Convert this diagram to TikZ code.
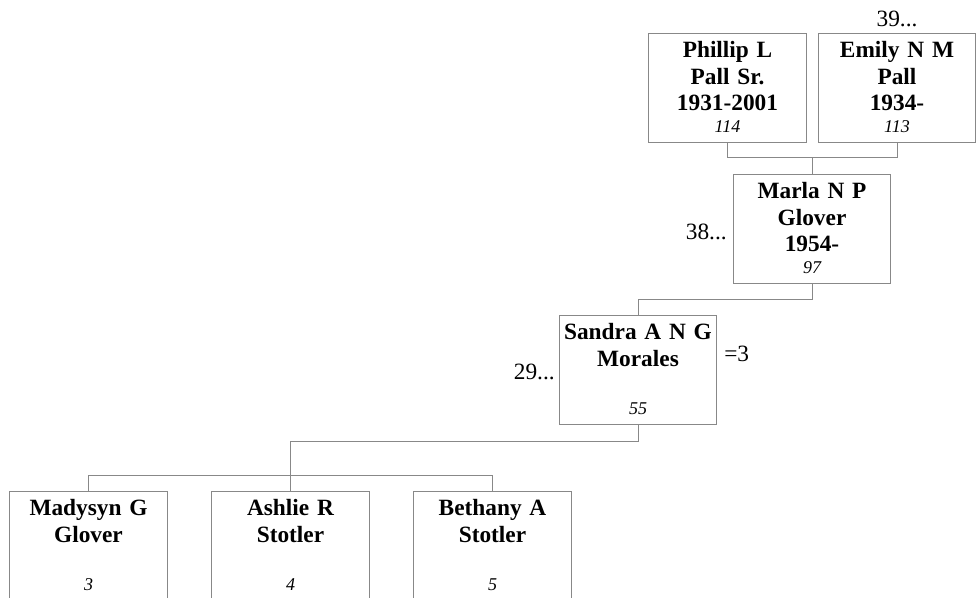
\documentclass[tikz,border=0pt]{standalone}
\usepackage{fontspec}
\setmainfont{Liberation Serif}
\usepackage{tikz}
\definecolor{linegray}{RGB}{136,136,136}
\tikzset{
  treenode/.style = {align=center, inner sep=0pt, text centered},
  fam_p/.style = {treenode, rectangle, draw=linegray, line width=0.75pt,
    anchor=north, text width=118.1pt, text height=18.3pt, text depth=63.8pt,
    font=\fontsize{17.5}{20}\selectfont\bfseries},% personne
  fam_x/.style = {inner sep=0pt,
    font=\fontsize{17.5}{20}\selectfont},% renvoi
  fam_l/.style = {draw=linegray, line width=0.75pt}% lien
}
\newcommand{\famnum}[1]{\\[-3.75pt]{\fontsize{13.5}{16}\selectfont\mdseries\itshape #1}}

\begin{document}
\begin{tikzpicture}[x=0.75pt,y=-0.75pt]
\useasboundingbox (0,0) rectangle (980,597);
\clip (0,0) rectangle (980,597);
% parents
\node [fam_p] (phillip) at (727.5,32.5) {Phillip L\\Pall Sr.\\1931-2001\famnum{114}};
\node [fam_p] (emily) at (897,32.5) {Emily N M\\Pall\\1934-\famnum{113}};
\node [fam_x, anchor=base] (emily_up) at (897,26.7) {39...};
% mere
\node [fam_p] (marla) at (812,173.5) {Marla N P\\Glover\\1954-\famnum{97}};
\node [fam_x, anchor=base east] (marla_up) at (727,239) {38...};
% personne
\node [fam_p] (sandra) at (638,315) {Sandra A N G\\Morales\\\mbox{}\famnum{55}};
\node [fam_x, anchor=base east] (sandra_up) at (555,379) {29...};
\node [fam_x, anchor=base west] (sandra_rep) at (724,361) {=3};
% enfants
\node [fam_p] (madysyn) at (88.5,491) {Madysyn G\\Glover\\\mbox{}\famnum{3}};
\node [fam_p] (ashlie) at (290.5,491) {Ashlie R\\Stotler\\\mbox{}\famnum{4}};
\node [fam_p] (bethany) at (492.5,491) {Bethany A\\Stotler\\\mbox{}\famnum{5}};
% liens
\draw [fam_l] (phillip.south) -- ++(0,15) -| (emily.south);
\draw [fam_l] (marla.north) -- ++(0,-17);
\draw [fam_l] (marla.south) -- ++(0,16) -| (sandra.north);
\draw [fam_l] (sandra.south) -- ++(0,16) -| (ashlie.north);
\draw [fam_l] (madysyn.north) -- ++(0,-16) -| (bethany.north);
\end{tikzpicture}
\end{document}
